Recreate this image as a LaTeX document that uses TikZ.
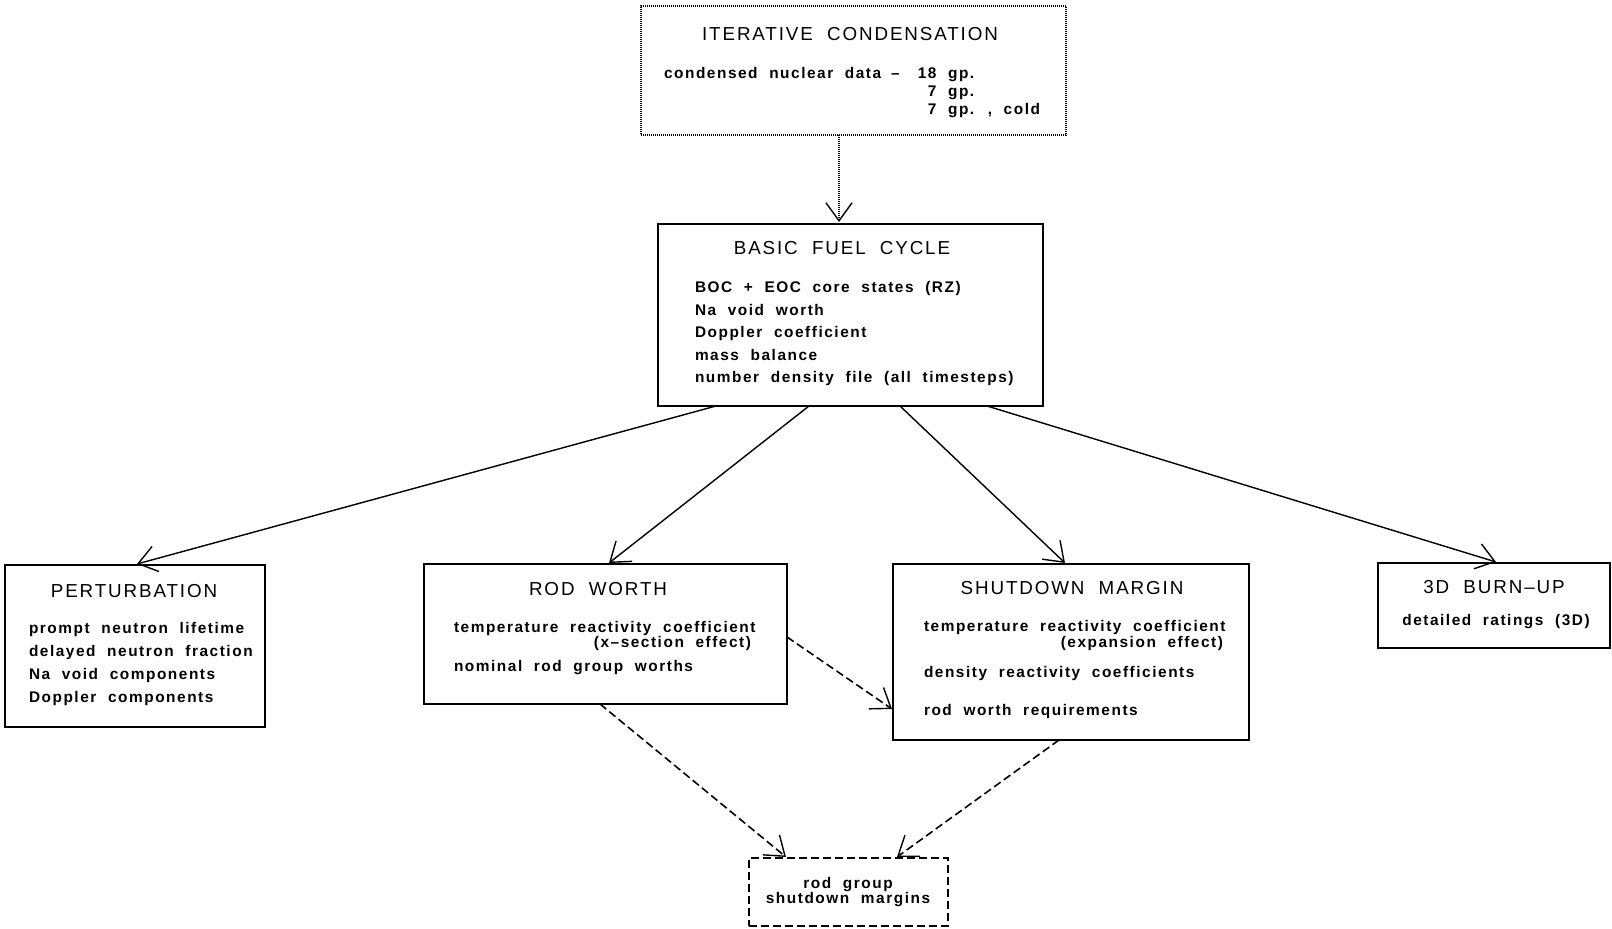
\documentclass[tikz,border=0pt]{standalone}
\usepackage{fontspec}
\setmainfont{Liberation Sans}[LetterSpace=10, WordSpace=2]
\usetikzlibrary{arrows.meta,calc,fit}

\newcommand\ttlfont{\fontsize{9.4}{11}\selectfont}
\newcommand\bdyfont{\fontsize{7.7}{9}\selectfont\bfseries}

\begin{document}
\begin{tikzpicture}[x=0.5pt, y=-0.5pt,
  box/.style={draw, line width=1pt, rectangle, inner sep=0pt, outer sep=0pt},
  dotbox/.style={draw, line width=0.8pt, dash pattern=on 0.5pt off 0.5pt, rectangle, inner sep=0pt, outer sep=0pt},
  dashbox/.style={draw, line width=0.9pt, dash pattern=on 4pt off 2pt, rectangle, inner sep=0pt, outer sep=0pt},
  ttl/.style={inner sep=0pt, outer sep=0pt, anchor=base, font=\ttlfont},
  txt/.style={inner sep=0pt, outer sep=0pt, anchor=base west, font=\bdyfont},
  tip/.style={-{Straight Barb[length=9pt, width=13pt, line width=0.7pt]}},
  arr/.style={tip, line width=0.7pt},
  dotarr/.style={tip, line width=0.7pt, dash pattern=on 0.5pt off 0.5pt},
  dasharr/.style={tip, line width=0.8pt, dash pattern=on 4pt off 2pt},
]
\useasboundingbox (0,0) rectangle (1612,929);

% ---- boxes ----
\node[dotbox, fit={(641,6)(1066,135)}] (iter) {};
\node[box, fit={(658,224)(1043,406)}] (basic) {};
\node[box, fit={(5,565)(265,727)}] (pert) {};
\node[box, fit={(424,564)(787,704)}] (rod) {};
\node[box, fit={(893,564)(1249,740)}] (shut) {};
\node[box, fit={(1378,563)(1610,648)}] (burn) {};
\node[dashbox, fit={(749,858)(948,926)}] (rg) {};

% ---- iterative condensation ----
\node[ttl] (iterT) at (850,41) {ITERATIVE CONDENSATION};
\node[txt] (iterL) at (664,79) {\begin{tabular}[t]{@{}l@{}r@{}l@{}}
condensed nuclear data\hspace{5pt}--\hspace{9pt}\mbox{}& 18 & \ gp.\\
 & 7 & \ gp.\\
 & 7 & \ gp. , cold
\end{tabular}};

% ---- basic fuel cycle ----
\node[ttl] (basicT) at (842,255) {BASIC FUEL CYCLE};
\node[txt] (b1) at (695,293) {BOC + EOC core states (RZ)};
\node[txt] (b2) at (695,315.5) {Na void worth};
\node[txt] (b3) at (695,338) {Doppler coefficient};
\node[txt] (b4) at (695,360.5) {mass balance};
\node[txt] (b5) at (695,383) {number density file (all timesteps)};

% ---- perturbation ----
\node[ttl] (pertT) at (134,598) {PERTURBATION};
\node[txt] (p1) at (29,634) {prompt neutron lifetime};
\node[txt] (p2) at (29,657) {delayed neutron fraction};
\node[txt] (p3) at (29,680) {Na void components};
\node[txt] (p4) at (29,703) {Doppler components};

% ---- rod worth ----
\node[ttl] (rodT) at (598,596) {ROD WORTH};
\node[txt] (r1) at (454,633) {temperature reactivity coefficient};
\node[txt, anchor=base east] (r2) at (751,648) {(x--section effect)};
\node[txt] (r3) at (454,672) {nominal rod group worths};

% ---- shutdown margin ----
\node[ttl] (shutT) at (1072,595) {SHUTDOWN MARGIN};
\node[txt] (s1) at (924,632) {temperature reactivity coefficient};
\node[txt, anchor=base east] (s2) at (1223,648) {(expansion effect)};
\node[txt] (s3) at (924,678) {density reactivity coefficients};
\node[txt] (s4) at (924,716) {rod worth requirements};

% ---- 3D burn-up ----
\node[ttl] (burnT) at (1494,594) {3D BURN--UP};
\node[txt, anchor=base] (burn1) at (1496,626) {detailed ratings (3D)};

% ---- rod group shutdown margins ----
\node[txt, anchor=base] (rg1) at (848,889) {rod group};
\node[txt, anchor=base] (rg2) at (848,904) {shutdown margins};

% ---- connectors ----
\draw[dotarr] ($(iter.south west)+(198,0)$) -- ($(basic.north west)+(181,-2)$);
\draw[arr] ($(basic.south west)+(58,0)$) -- ($(pert.north west)+(132,-1)$);
\draw[arr] ($(basic.south west)+(151,0)$) -- ($(rod.north west)+(185,-1)$);
\draw[arr] ($(basic.south west)+(242,0)$) -- ($(shut.north west)+(172,-1)$);
\draw[arr] ($(basic.south west)+(329,0)$) -- ($(burn.north west)+(118,-1)$);
\draw[dasharr] ($(rod.north east)+(0,73)$) -- ($(shut.north west)+(-1,145)$);
\draw[dasharr] ($(rod.south west)+(176,0)$) -- ($(rg.north west)+(37,-1)$);
\draw[dasharr] ($(shut.south west)+(166,0)$) -- ($(rg.north west)+(148,-1)$);
\end{tikzpicture}
\end{document}
